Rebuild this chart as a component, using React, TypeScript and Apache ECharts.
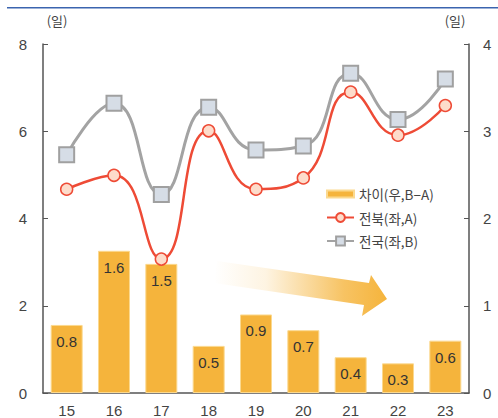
import React, { useEffect, useRef } from "react";
import * as echarts from "echarts";

const categories = ["15", "16", "17", "18", "19", "20", "21", "22", "23"];
const diffValues = [0.78, 1.63, 1.48, 0.54, 0.9, 0.72, 0.41, 0.34, 0.6];
const jeonbukValues = [4.67, 4.99, 3.07, 6.01, 4.67, 4.93, 6.9, 5.91, 6.59];
const nationalValues = [5.46, 6.64, 4.55, 6.55, 5.57, 5.66, 7.33, 6.27, 7.2];
const seriesNames = ["차이(우,B−A)", "전북(좌,A)", "전국(좌,B)"];
const unitLabel = "(일)";

const NUM_FONT = "Liberation Sans, Arial, sans-serif";
const KR_FONT = "Noto Sans CJK KR, sans-serif";

export default function App() {
  const ref = useRef<HTMLDivElement>(null);
  useEffect(() => {
    if (!ref.current) return;
    const chart = echarts.init(ref.current, null, { renderer: "svg" });
    const axisColor = "#555";
    const textColor = "#444";
    chart.setOption({
      animation: false,
      backgroundColor: "#fff",
      grid: { left: 43, right: 29, top: 44, bottom: 25, containLabel: false },
      legend: {
        orient: "vertical",
        left: 321,
        top: 179.5,
        itemWidth: 27,
        itemHeight: 11,
        itemGap: 4.5,
        textStyle: {
          fontFamily: KR_FONT,
          fontSize: 13.5,
          color: textColor,
          lineHeight: 19,
        },
        data: [
          { name: seriesNames[0], icon: "path://M0,0 H27 V7 H0 Z" },
          { name: seriesNames[1] },
          { name: seriesNames[2] },
        ],
      },
      xAxis: {
        type: "category",
        data: categories,
        boundaryGap: true,
        axisLine: { lineStyle: { color: axisColor, width: 1.5 } },
        axisTick: { inside: true, length: 5, lineStyle: { color: axisColor } },
        axisLabel: { fontFamily: NUM_FONT, fontSize: 15, color: textColor, margin: 10 },
      },
      yAxis: [
        {
          type: "value",
          min: 0,
          max: 8,
          interval: 2,
          splitLine: { show: false },
          axisLine: { show: true, lineStyle: { color: axisColor, width: 1.5 } },
          axisTick: { show: true, inside: true, length: 5, lineStyle: { color: axisColor } },
          axisLabel: { fontFamily: NUM_FONT, fontSize: 15, color: textColor, margin: 16 },
        },
        {
          type: "value",
          min: 0,
          max: 4,
          interval: 1,
          position: "right",
          splitLine: { show: false },
          axisLine: { show: true, lineStyle: { color: axisColor, width: 1.5 } },
          axisTick: { show: true, inside: true, length: 5, lineStyle: { color: axisColor } },
          axisLabel: { fontFamily: NUM_FONT, fontSize: 15, color: textColor, margin: 14 },
        },
      ],
      series: [
        {
          name: seriesNames[0],
          type: "bar",
          yAxisIndex: 1,
          data: diffValues,
          barWidth: 32,
          itemStyle: { color: "#F5B43C", borderColor: "#FBD98F", borderWidth: 1 },
          label: {
            show: true,
            position: "insideTop",
            distance: 9,
            fontFamily: NUM_FONT,
            fontSize: 15,
            color: "#333",
            formatter: (p: any) => Number(p.value).toFixed(1),
          },
          z: 1,
        },
        {
          name: seriesNames[1],
          type: "line",
          yAxisIndex: 0,
          data: jeonbukValues,
          smooth: true,
          symbol: "circle",
          symbolSize: 12,
          lineStyle: { color: "#EE4B36", width: 2.5 },
          itemStyle: { color: "#FDDCCB", borderColor: "#EE4B36", borderWidth: 1.5 },
          z: 3,
        },
        {
          name: seriesNames[2],
          type: "line",
          yAxisIndex: 0,
          data: nationalValues,
          smooth: true,
          symbol: "rect",
          symbolSize: 15,
          lineStyle: { color: "#A3A3A3", width: 3 },
          itemStyle: { color: "#D6DDE6", borderColor: "#A0A0A0", borderWidth: 2 },
          z: 2,
        },
      ],
      graphic: [
        {
          type: "rect",
          left: 7,
          top: 7,
          shape: { width: 491, height: 1.5 },
          style: { fill: "#3B64AF" },
        },
        {
          type: "text",
          x: 57,
          y: 20,
          style: {
            text: unitLabel,
            fontFamily: KR_FONT,
            fontSize: 13,
            fill: textColor,
            align: "center",
            verticalAlign: "middle",
          },
        },
        {
          type: "text",
          x: 455,
          y: 20,
          style: {
            text: unitLabel,
            fontFamily: KR_FONT,
            fontSize: 13,
            fill: textColor,
            align: "center",
            verticalAlign: "middle",
          },
        },
        {
          type: "polygon",
          z: 0,
          shape: {
            points: [
              [217, 261],
              [369, 283],
              [371, 275],
              [387, 299],
              [362, 316],
              [364, 305],
              [214, 283],
            ],
          },
          style: {
            fill: new echarts.graphic.LinearGradient(0, 0, 1, 0, [
              { offset: 0, color: "rgba(245,180,60,0)" },
              { offset: 0.3, color: "rgba(245,180,60,0.15)" },
              { offset: 0.75, color: "rgba(245,180,60,0.8)" },
              { offset: 1, color: "rgba(245,180,60,1)" },
            ]),
          },
        },
      ],
    });
    return () => chart.dispose();
  }, []);
  return (
    <div
      ref={ref}
      style={{ position: "fixed", left: 0, top: 0, width: 498, height: 418 }}
    />
  );
}
